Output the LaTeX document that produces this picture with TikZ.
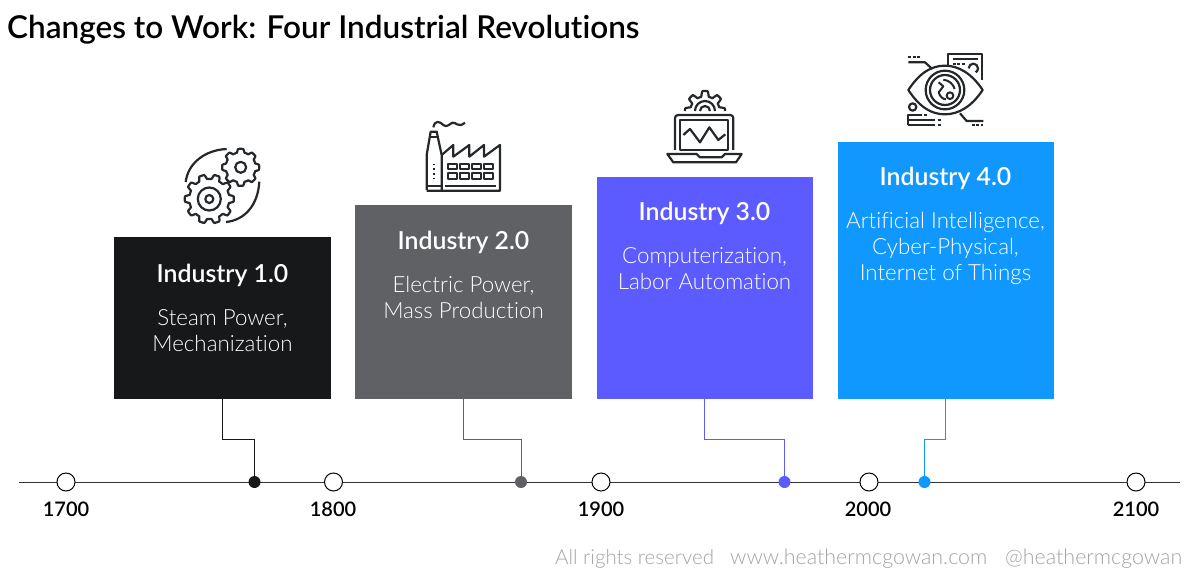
\documentclass[tikz,border=0pt]{standalone}
\usepackage{fontspec}
\setmainfont[Ligatures=NoCommon]{Lato}
\newfontfamily\lightf[Ligatures=NoCommon]{Lato Light}
\newfontfamily\semif[Ligatures=NoCommon]{Lato Semibold}
\definecolor{cA}{HTML}{17181A}
\definecolor{cB}{HTML}{5F6165}
\definecolor{cC}{HTML}{5B5BFF}
\definecolor{cD}{HTML}{1098FF}
\definecolor{cI}{HTML}{24282B}
\definecolor{cF}{HTML}{A2A4A8}
\tikzset{
  x=1pt,y=-1pt,
  panel/.style={draw=none,anchor=north west,minimum width=216.5pt,inner sep=0pt,outer sep=0pt},
  head/.style={anchor=base,text=white,inner sep=0pt,font=\semif\fontsize{24.8}{25}\selectfont},
  body/.style={anchor=base,text=white,inner sep=0pt,font=\lightf\fontsize{22.3}{24}\selectfont},
  year/.style={anchor=base,text=black,inner sep=0pt,font=\semif\fontsize{20}{20}\selectfont},
  foot/.style={anchor=base west,text=cF,inner sep=0pt,font=\lightf\fontsize{21.4}{21}\selectfont},
  tick/.style={circle,draw=black,fill=white,line width=1pt,minimum size=18pt,inner sep=0pt},
  dot/.style={circle,minimum size=12pt,inner sep=0pt},
  wire/.style={line width=1pt},
  ico/.style={draw=cI,line width=2.2pt,line join=round},
  icofine/.style={ico,line width=2pt},
  dotted line/.style={ico,dash pattern=on 3pt off 1.5pt}
}
\newcommand{\gearpath}[6]{% cx cy root outer teeth phase
  plot[domain=0:360,samples=240,smooth cycle] ({#1+(#3+(#4-#3)*0.5*(1+max(-1,min(1,2.2*cos(#5*(\x)+#6)))))*cos(\x)},{#2+(#3+(#4-#3)*0.5*(1+max(-1,min(1,2.2*cos(#5*(\x)+#6)))))*sin(\x)})}
\begin{document}
\begin{tikzpicture}
\useasboundingbox (0,0) rectangle (1200,582);
\fill[white] (0,0) rectangle (1200,582);

\node[anchor=base west,inner sep=0pt,text=black,font=\semif\fontsize{31.5}{32}\selectfont] (title) at (7,38) {Changes to Work: Four Industrial Revolutions};

% axis
\coordinate (axL) at (19,482);
\coordinate (axR) at (1180,482);
\draw[line width=1pt,draw=black!80] (axL) -- (axR);

% panels
\node[panel,fill=cA,minimum height=162pt] (p1) at (114,237) {};
\node[panel,fill=cB,minimum height=194pt] (p2) at (355,205) {};
\node[panel,fill=cC,minimum height=222pt] (p3) at (596.5,177) {};
\node[panel,fill=cD,minimum height=257pt] (p4) at (837.5,142) {};

% panel text
\node[head] (h1) at (222.5,282) {Industry 1.0};
\node[body] (a1) at (222.5,325) {Steam Power,};
\node[body] (b1) at (222.5,351) {Mechanization};
\node[head] (h2) at (463.5,249) {Industry 2.0};
\node[body] (a2) at (463.5,292) {Electric Power,};
\node[body] (b2) at (463.5,318) {Mass Production};
\node[head] (h3) at (704.5,220) {Industry 3.0};
\node[body] (a3) at (704.5,263) {Computerization,};
\node[body] (b3) at (704.5,289) {Labor Automation};
\node[head] (h4) at (945.5,185) {Industry 4.0};
\node[body] (a4) at (945.5,228) {Artificial Intelligence,};
\node[body] (b4) at (945.5,254) {Cyber-Physical,};
\node[body] (c4) at (945.5,280) {Internet of Things};

% ticks
\node[tick] (t1) at (66,482) {};
\node[tick] (t2) at (333.5,482) {};
\node[tick] (t3) at (601,482) {};
\node[tick] (t4) at (869,482) {};
\node[tick] (t5) at (1136,482) {};
\node[year] (y1) at (66,516) {1700};
\node[year] (y2) at (333,516) {1800};
\node[year] (y3) at (601,516) {1900};
\node[year] (y4) at (868,516) {2000};
\node[year] (y5) at (1136,516) {2100};

% dots and connectors
\node[dot,fill=cA] (d1) at (254.5,482) {};
\node[dot,fill=cB] (d2) at (521,482) {};
\node[dot,fill=cC] (d3) at (784.5,482) {};
\node[dot,fill=cD] (d4) at (924.5,482) {};
\coordinate (e1) at (254.5,439);
\coordinate (e2) at (521,439);
\coordinate (e3) at (784.5,439);
\coordinate (e4) at (924.5,439);
\draw[wire,draw=cA] (p1.south) |- (e1) -- (d1);
\draw[wire,draw=cB] (p2.south) |- (e2) -- (d2);
\draw[wire,draw=cC] (p3.south) |- (e3) -- (d3);
\draw[wire,draw=cD] (p4.south) |- (e4) -- (d4);

% footer
\node[foot,font=\lightf\fontsize{20.5}{21}\selectfont] (f1) at (555,564) {All rights reserved};
\node[foot] (f2) at (730,564) {www.heathermcgowan.com};
\node[foot] (f3) at (1005,564) {@heathermcgowan};

% icon 1: gears
\draw[ico] \gearpath{240.7}{167.3}{15}{18.5}{8}{0};
\draw[ico] (240.7,167.3) circle (5.5);
\draw[ico,fill=white] \gearpath{209.3}{199}{20}{24.5}{10}{0};
\draw[ico] (209.3,199) circle (11.5);
\draw[ico] (209.3,199) circle (4);
\draw[ico] (226.7,149) .. controls (205,150) and (188,163) .. (185.7,182);
\draw[ico] (259.3,181.7) .. controls (258,205) and (245,220) .. (226,222);

% icon 2: factory
\begin{scope}[shift={(410,110)},scale=0.3333]
\draw[ico] (50,240) -- (50,135) -- (62,65) -- (80,65) -- (95,135) -- (95,240);
\draw[ico] (58,82) -- (85,82);
\draw[ico] (50,242) -- (270,242) -- (270,105) -- (222,140) -- (222,105) -- (178,140) -- (178,105) -- (130,140) -- (130,105) -- (95,135);
\draw[ico] (50,227) -- (95,227);
\draw[ico] (105,227) -- (258,227);
\foreach \wx in {115,150,187,222}{
  \draw[icofine] (\wx,161) rectangle ++(27,17);
  \draw[icofine] (\wx,190) rectangle ++(27,18);
}
\foreach \wy in {163,177,191,205}{ \fill[cI] (69,\wy-2) rectangle (75,\wy+3); }
\draw[ico] (70,52) .. controls (75,28) and (90,35) .. (100,45) .. controls (110,55) and (120,40) .. (128,38) .. controls (138,36) and (145,55) .. (165,38);
\end{scope}

% icon 3: laptop
\begin{scope}[shift={(650,85)},scale=0.3333]
\draw[ico,rounded corners=3pt] (75,195) -- (75,90) -- (250,90) -- (250,195);
\draw[ico] (90,105) rectangle (235,195);
\draw[ico] (52,207) -- (140,207) -- (150,217) -- (215,217) -- (225,207) -- (275,207) -- (258,232) -- (70,232) -- cycle;
\draw[ico] (100,150) -- (120,132) -- (150,172) -- (178,127) -- (205,165) -- (226,148);
\draw[ico] plot[domain=180:360,samples=120,smooth] ({165+(44+16*0.5*(1+max(-1,min(1,2.2*cos(8*\x)))))*cos(\x)},{78+(44+16*0.5*(1+max(-1,min(1,2.2*cos(8*\x)))))*sin(\x)});
\draw[ico] (135,78) arc[start angle=180,end angle=360,radius=30];
\draw[ico] (150,78) arc[start angle=180,end angle=360,radius=15];
\end{scope}

% icon 4: eye
\begin{scope}[shift={(890,45)},scale=0.3333]
\draw[ico] (55,135) .. controls (90,82) and (125,62) .. (165,62) .. controls (205,62) and (245,85) .. (278,135) .. controls (245,185) and (205,208) .. (165,208) .. controls (125,208) and (90,188) .. (55,135) -- cycle;
\draw[ico,fill=white] (165,135) circle (58);
\draw[ico] (165,135) circle (45);
\draw[icofine] (160,104) .. controls (178,106) and (190,118) .. (194,132);
\draw[icofine] (146,112) -- (160,124) -- (146,142) .. controls (150,156) and (160,163) .. (168,163);
\draw[icofine] (180,152) circle (10);
\draw[ico] (175,62) -- (175,28) -- (277,28) -- (277,105);
\draw[ico] (188,42) -- (265,42);
\draw[dotted line] (188,58) -- (226,58);
\draw[ico] (236,70) arc[start angle=180,end angle=420,radius=14];
\draw[dotted line] (55,37) -- (90,37);
\draw[ico] (55,52) -- (105,52) -- (127,72);
\draw[ico] (68,186) circle (11);
\draw[ico] (55,240) -- (55,210) -- (95,210);
\draw[ico] (102,210) -- (110,210);
\draw[ico] (55,225) -- (135,225);
\draw[ico] (55,240) -- (135,240);
\draw[ico] (143,225) -- (152,225);
\draw[ico] (143,240) -- (152,240);
\draw[ico] (210,205) -- (230,228) -- (280,228);
\draw[dotted line] (245,240) -- (280,240);
\end{scope}
\end{tikzpicture}
\end{document}
